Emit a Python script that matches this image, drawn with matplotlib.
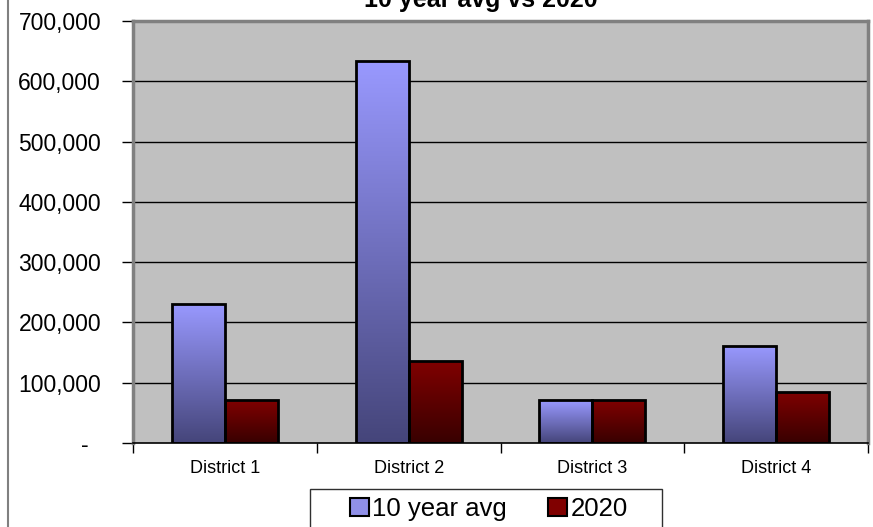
import matplotlib
matplotlib.use("Agg")
import matplotlib.pyplot as plt
import numpy as np
from matplotlib.patches import Patch, Rectangle
from matplotlib.lines import Line2D
from matplotlib.colors import LinearSegmentedColormap

categories = ["District 1", "District 2", "District 3", "District 4"]
series_names = ["10 year avg", "2020"]
avg10 = [231000, 634000, 71000, 161000]
y2020 = [71000, 136000, 71000, 85000]
yticks = [0, 100000, 200000, 300000, 400000, 500000, 600000, 700000]

plt.rcParams['font.family'] = ['Liberation Sans', 'DejaVu Sans']

fig = plt.figure(figsize=(8.73, 5.27), dpi=100)
ax = fig.add_axes([133/873, 1-443/527, (868-133)/873, (443-21)/527])
ax.set_facecolor('#C0C0C0')

x = np.arange(len(categories))
w = 0.288
cmap_blue = LinearSegmentedColormap.from_list('b', ['#45457A', '#9999FF'])
cmap_red = LinearSegmentedColormap.from_list('r', ['#380000', '#800000'])
grad = np.linspace(0, 1, 256).reshape(-1, 1)

ax.set_xlim(-0.5, len(categories) - 0.5)
ax.set_ylim(0, 700000)
ax.set_yticks(yticks)
for yv in yticks[1:-1]:
    ax.axhline(yv, color='black', lw=1.0, zorder=1)

for vals, offset, cmap in [(avg10, -w/2, cmap_blue), (y2020, w/2, cmap_red)]:
    bars = ax.bar(x + offset, vals, width=w, facecolor='none', edgecolor='black', linewidth=2.0, zorder=3)
    for b in bars:
        x0, y0 = b.get_x(), b.get_y()
        bw, bh = b.get_width(), b.get_height()
        im = ax.imshow(grad, cmap=cmap, aspect='auto', origin='lower',
                       extent=[x0, x0 + bw, y0, y0 + bh], zorder=2)
        im.set_clip_path(b)

ax.set_xlim(-0.5, len(categories) - 0.5)
ax.set_ylim(0, 700000)

def fmt(v):
    return '-  ' if v == 0 else f'{v:,.0f}'
ax.set_yticklabels([fmt(v) for v in yticks], fontsize=16.5)
ax.tick_params(axis='y', length=8, width=1, pad=15, color='black')

ax.set_xticks(x)
ax.set_xticklabels(categories, fontsize=13)
ax.set_xticks(np.arange(-0.5, len(categories)), minor=True)
ax.tick_params(axis='x', which='major', length=0, pad=12)
ax.tick_params(axis='x', which='minor', length=7, width=1, color='black')

for s in ['left', 'top', 'right']:
    ax.spines[s].set_color('#808080')
    ax.spines[s].set_linewidth(2.5)
ax.spines['bottom'].set_color('black')
ax.spines['bottom'].set_linewidth(1.2)
ax.spines['bottom'].set_zorder(4)

fig.text(481/873, 1.0, "10 year avg vs 2020", ha='center', va='center',
         fontsize=18, fontweight='bold')

fig.add_artist(Line2D([8/873, 8/873], [0, 1], transform=fig.transFigure, color='#808080', lw=1.5))

# legend frame
fig.add_artist(Rectangle((310/873, -0.05), (662-310)/873, 0.05 + 1-489/527,
                         transform=fig.transFigure, facecolor='white',
                         edgecolor='#303030', lw=1.0))

handles = [Patch(facecolor='#9090E8', edgecolor='black', lw=1.5),
           Patch(facecolor='#800000', edgecolor='black', lw=1.5)]
leg = fig.legend(handles, series_names, loc='center left', ncol=2,
                 bbox_to_anchor=(350/873, 1-509/527), fontsize=18.5,
                 frameon=False,
                 handlelength=0.75, handleheight=0.75, handletextpad=0.12,
                 columnspacing=1.6, borderpad=0, borderaxespad=0)

fig.savefig('out.png', dpi=100)
